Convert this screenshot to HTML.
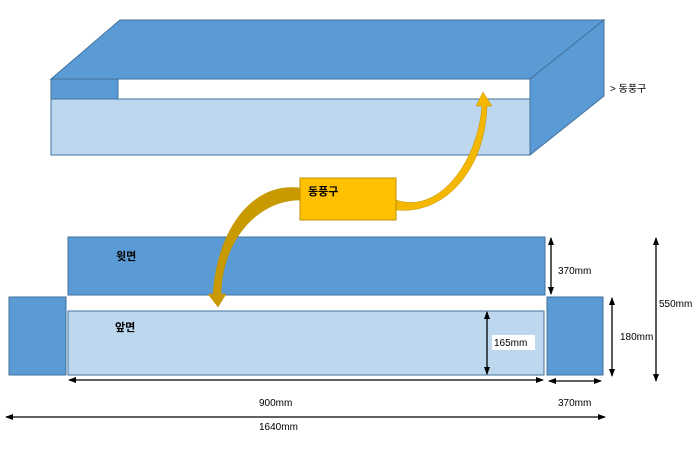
<!DOCTYPE html>
<html><head><meta charset="utf-8"><style>
body{margin:0;background:#fff}
svg text{font-family:"Liberation Sans","Noto Sans CJK KR",sans-serif;}
</style></head><body>
<svg width="700" height="450" viewBox="0 0 700 450" xmlns="http://www.w3.org/2000/svg">
<defs>
<marker id="a" markerWidth="8" markerHeight="8" refX="7" refY="4" orient="auto-start-reverse" markerUnits="userSpaceOnUse"><path d="M0,1 L8,4 L0,7 Z" fill="#000"/></marker>
</defs>
<g stroke="#41719c" stroke-width="1">
<polygon points="51,79 120,20 604,20 530,79" fill="#5b9bd5"/>
<polygon points="530,79 604,20 604,96 530,155" fill="#5b9bd5"/>
<rect x="51" y="79" width="67" height="20" fill="#5b9bd5"/>
<rect x="51" y="99" width="479" height="56" fill="#bdd7ee"/>
</g>
<text x="610" y="92" font-size="10">&gt; 동풍구</text>
<g stroke="#41719c" stroke-width="1">
<rect x="68" y="237" width="477" height="58" fill="#5b9bd5"/>
<rect x="68" y="311" width="476" height="64" fill="#bdd7ee"/>
<rect x="9" y="297" width="57" height="78" fill="#5b9bd5"/>
<rect x="547" y="297" width="56" height="78" fill="#5b9bd5"/>
</g>
<!-- arrows -->
<path d="M300,188 C255,182 218,225 213,294 L208,294 L218,307 L226,294 L221,294 C222,240 258,200 300,200 Z" fill="#c89a00" stroke="#bf9000" stroke-width="0.5"/>
<path d="M396,200 C440,215 478,160 482,106 L476,106 L483,92 L492,106 L487,106 C485,170 445,215 396,210 Z" fill="#f5b800" stroke="#bf9000" stroke-width="0.5"/>
<rect x="300" y="178" width="96" height="42" fill="#ffc000" stroke="#bf9000"/>
<text x="308" y="195" font-size="11" font-weight="bold">동풍구</text>
<text x="116" y="260" font-size="11" font-weight="bold">윗면</text>
<text x="115" y="331" font-size="11" font-weight="bold">앞면</text>
<g stroke="#000" stroke-width="1.3" marker-start="url(#a)" marker-end="url(#a)">
<line x1="551" y1="238" x2="551" y2="294"/>
<line x1="487" y1="312" x2="487" y2="374"/>
<line x1="612" y1="298" x2="612" y2="376"/>
<line x1="656" y1="238" x2="656" y2="381"/>
<line x1="69" y1="380" x2="543" y2="380"/>
<line x1="549" y1="381" x2="601" y2="381"/>
<line x1="6" y1="417" x2="605" y2="417"/>
</g>
<rect x="492" y="335" width="43" height="15" fill="#fff"/>
<g font-size="10">
<text x="558" y="274">370mm</text>
<text x="494" y="346">165mm</text>
<text x="620" y="340">180mm</text>
<text x="659" y="307">550mm</text>
<text x="259" y="406">900mm</text>
<text x="558" y="406">370mm</text>
<text x="259" y="430">1640mm</text>
</g>
</svg>
</body></html>
